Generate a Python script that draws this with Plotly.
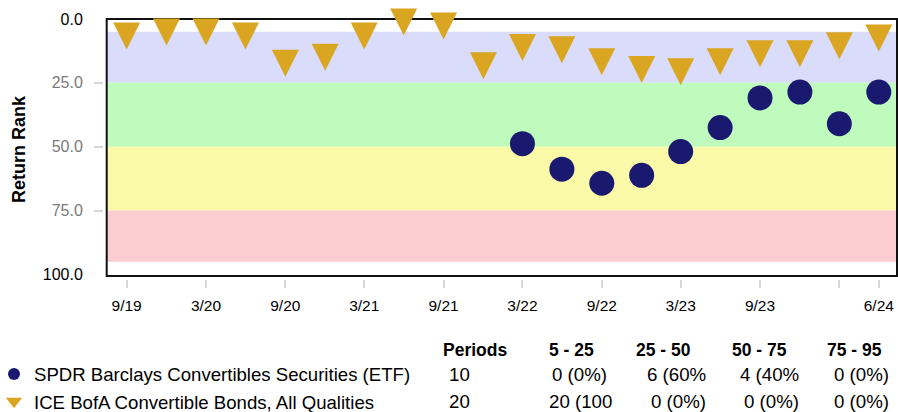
import plotly.graph_objects as go

# ---------------- data ----------------
quarters = ["2019-09-30", "2019-12-31", "2020-03-31", "2020-06-30", "2020-09-30",
            "2020-12-31", "2021-03-31", "2021-06-30", "2021-09-30", "2021-12-31",
            "2022-03-31", "2022-06-30", "2022-09-30", "2022-12-31", "2023-03-31",
            "2023-06-30", "2023-09-30", "2023-12-31", "2024-03-31", "2024-06-30"]
index_rank = [6.7, 5.1, 5.1, 6.7, 17.3, 15.0, 6.7, 1.2, 2.7, 18.3,
              11.2, 12.0, 16.7, 19.8, 20.6, 16.7, 13.6, 13.6, 10.5, 7.4]
etf_rank = [None, None, None, None, None, None, None, None, None, None,
            48.8, 58.8, 64.3, 61.2, 51.9, 42.5, 30.9, 28.6, 41.0, 28.6]

tick_dates = ["2019-09-30", "2020-03-31", "2020-09-30", "2021-03-31", "2021-09-30",
              "2022-03-31", "2022-09-30", "2023-03-31", "2023-09-30", "2024-03-31",
              "2024-06-30"]
tick_labels = ["9/19", "3/20", "9/20", "3/21", "9/21", "3/22", "9/22", "3/23",
               "9/23", "", "6/24"]

y_mid_ticks = [25, 50, 75]
y_mid_labels = ["25.0", "50.0", "75.0"]
y_end_ticks = [0, 100]
y_end_labels = ["0.0", "100.0"]

band_edges = [5, 25, 50, 75, 95]
band_colors = ["#d9dcfb", "#bffbbd", "#f9f9a8", "#fbcdd0"]

etf_name = "SPDR Barclays Convertibles Securities (ETF)"
index_name = "ICE BofA Convertible Bonds, All Qualities"

table_header = ["Periods", "5 - 25", "25 - 50", "50 - 75", "75 - 95"]
etf_row = ["10", "0 (0%)", "6 (60%", "4 (40%", "0 (0%)"]
index_row = ["20", "20 (100", "0 (0%)", "0 (0%)", "0 (0%)"]

# ---------------- geometry ----------------
W, H = 898, 412
ML, MR, MT, MB = 103, 1, 19, 133
PW = W - ML - MR
PH = H - MT - MB


def px_x(px):
    return (px - ML) / PW


def px_y(py):
    return (H - MB - py) / PH


FONT = "Arial, 'Liberation Sans', sans-serif"
GOLD = "#DAA520"
NAVY = "#191970"

fig = go.Figure()

for i, c in enumerate(band_colors):
    fig.add_shape(type="rect", xref="x domain", yref="y", x0=0, x1=1,
                  y0=band_edges[i], y1=band_edges[i + 1], fillcolor=c,
                  line_width=0, layer="below")
fig.add_shape(type="rect", xref="x domain", yref="y domain", x0=0, x1=1, y0=0, y1=1,
              line=dict(color="#111111", width=2), layer="below")

fig.add_trace(go.Scatter(
    x=quarters, y=index_rank, mode="markers", yaxis="y2",
    marker=dict(symbol="arrow-down", size=27, standoff=13.5, color=GOLD),
    cliponaxis=False, showlegend=False, name=index_name))
fig.add_trace(go.Scatter(
    x=quarters, y=etf_rank, mode="markers",
    marker=dict(symbol="circle", size=25, color=NAVY),
    cliponaxis=False, showlegend=False, name=etf_name))

# legend entries
fig.add_trace(go.Scatter(x=[None], y=[None], mode="markers", name=etf_name,
                         marker=dict(symbol="circle", size=12, color=NAVY)))
fig.add_trace(go.Scatter(x=[None], y=[None], mode="markers", name=index_name,
                         marker=dict(symbol="triangle-down", size=14, color=GOLD)))

annotations = []
hdr_x = [441.7, 595, 691.7, 788.3, 882.7]
row_x = [448, 608, 707, 800, 890]
for j, t in enumerate(table_header):
    annotations.append(dict(text="<b>%s</b>" % t, x=px_x(hdr_x[j]), y=px_y(349.7),
                            xanchor="left" if j == 0 else "right",
                            font=dict(size=17.5, color="black", family=FONT)))
for j, t in enumerate(etf_row):
    annotations.append(dict(text=t, x=px_x(row_x[j]), y=px_y(374.7),
                            xanchor="left" if j == 0 else "right",
                            font=dict(size=18.7, color="black", family=FONT)))
for j, t in enumerate(index_row):
    xx = row_x[j] if j != 1 else 548
    annotations.append(dict(text=t, x=px_x(xx), y=px_y(401.3),
                            xanchor="left" if j in (0, 1) else "right",
                            font=dict(size=18.7, color="black", family=FONT)))
for a in annotations:
    a.update(xref="paper", yref="paper", yanchor="middle", showarrow=False, borderpad=0)
annotations.append(dict(text="<b>Return Rank</b>", textangle=-90, x=px_x(19), y=px_y(149),
                        xref="paper", yref="paper", showarrow=False,
                        xanchor="center", yanchor="middle",
                        font=dict(size=18, color="black", family=FONT)))

fig.update_layout(
    width=W, height=H,
    margin=dict(l=ML, r=MR, t=MT, b=MB, autoexpand=False),
    paper_bgcolor="white", plot_bgcolor="white",
    font=dict(family=FONT, color="black"),
    xaxis=dict(type="date", range=["2019-08-15", "2024-08-11"],
               domain=[px_x(106.7), 1], anchor="free", position=0,
               tickmode="array", tickvals=tick_dates, ticktext=tick_labels,
               ticks="outside", ticklen=8, tickwidth=1.5, tickcolor="#d6d6d6",
               ticklabelstandoff=4,
               tickfont=dict(size=15.5, color="black"),
               showgrid=False, zeroline=False, showline=False),
    yaxis=dict(range=[100.6, 0], domain=[px_y(276), 1], anchor="free", position=0,
               tickmode="array", tickvals=y_mid_ticks, ticktext=y_mid_labels,
               ticks="outside", ticklen=9, tickwidth=1.5, tickcolor="#d6d6d6",
               ticklabelstandoff=8,
               tickfont=dict(size=16, color="#7a7a7a"),
               showgrid=False, zeroline=False, showline=False),
    yaxis2=dict(range=[100.6, 0], overlaying="y", anchor="free", position=0, side="left",
                tickmode="array", tickvals=y_end_ticks, ticktext=y_end_labels,
                ticks="outside", ticklen=9, tickcolor="rgba(0,0,0,0)",
                ticklabelstandoff=8,
                tickfont=dict(size=16, color="black"),
                showgrid=False, zeroline=False, showline=False),
    legend=dict(x=px_x(-6), y=px_y(355.5), xanchor="left", yanchor="top",
                font=dict(size=18.6, color="black", family=FONT),
                bgcolor="rgba(0,0,0,0)", itemsizing="trace", tracegroupgap=0,
                itemwidth=30, maxheight=1000),
    annotations=annotations,
    showlegend=True,
)

fig.write_html("out.html", config={"displayModeBar": False},
               post_script="document.body.style.margin='0px';document.body.style.overflow='hidden';")
